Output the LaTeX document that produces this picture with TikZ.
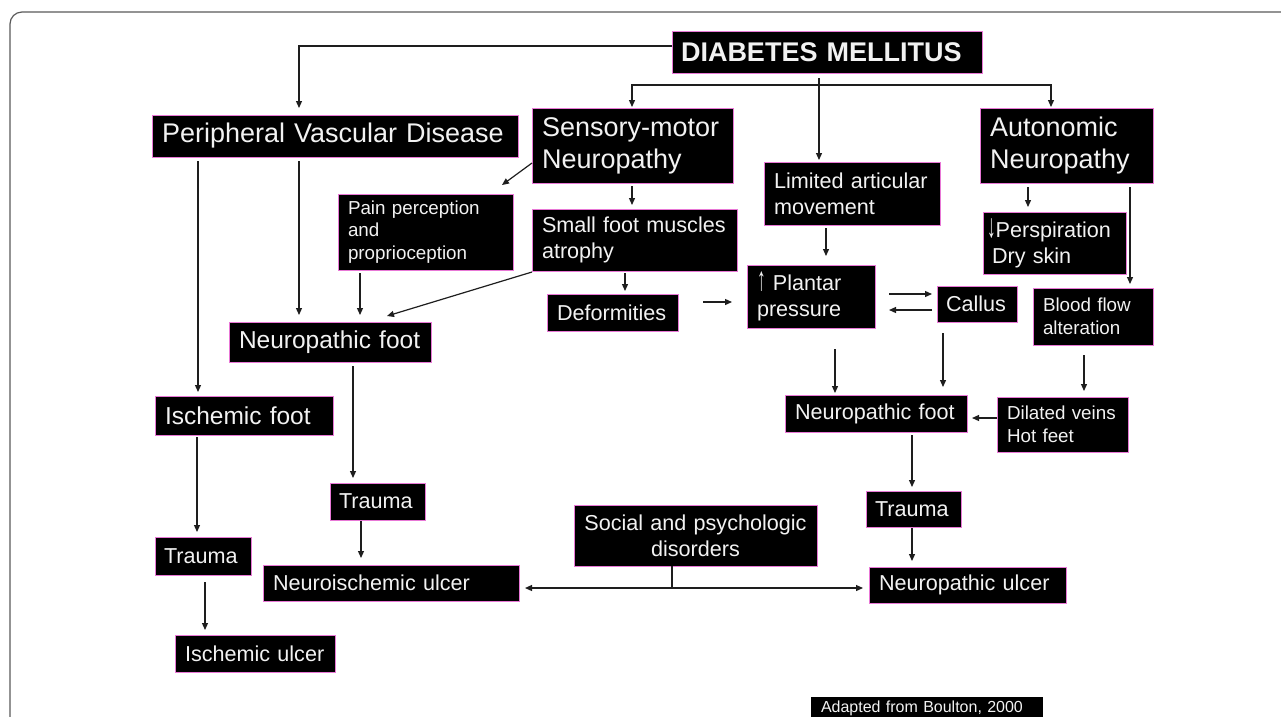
\documentclass[tikz,border=0pt]{standalone}
\usepackage{fontspec}
\setmainfont{Liberation Sans}
\usetikzlibrary{arrows.meta,calc}
\definecolor{edgepink}{RGB}{232,120,214}
\definecolor{txtwhite}{RGB}{242,242,242}
\definecolor{lncol}{RGB}{30,30,30}
\definecolor{framecol}{RGB}{90,90,90}
\newcommand{\fL}{\fontsize{27}{32}\selectfont}
\newcommand{\fLM}{\fontsize{24.5}{29}\selectfont}
\newcommand{\fM}{\fontsize{21.6}{26}\selectfont}
\newcommand{\fS}{\fontsize{18.8}{22.5}\selectfont}
\newcommand{\fC}{\fontsize{16}{19}\selectfont}
\newcommand{\tallarrow}[1]{\scalebox{0.8}[1.55]{#1}}
\begin{document}
\begin{tikzpicture}[x=1pt,y=-1pt,
  box/.style={draw=edgepink, line width=1pt, fill=black, text=txtwhite, anchor=north west,
              inner ysep=0pt, inner xsep=10pt, outer sep=0pt, align=left},
  arr/.style={draw=lncol, line width=1.2pt, -{Triangle[length=7pt,width=6pt]}},
  plain/.style={draw=lncol, line width=1.2pt},
  dbl/.style={draw=lncol, line width=1.2pt, {Triangle[length=7pt,width=6pt]}-{Triangle[length=7pt,width=6pt]}}]
\useasboundingbox (0,0) rectangle (1281,716);
\clip (0,0) rectangle (1281,716);
\fill[white] (0,0) rectangle (1281,716);
% frame
\draw[framecol, line width=1.2pt, rounded corners=12pt] (10,730) -- (10,12) -- (1290,12);

% nodes
\node[box, inner xsep=9pt, text width=292pt, minimum height=42pt, font=\fL\bfseries] (dm) at (672,31) {DIABETES MELLITUS};
\node[box, text width=346pt, minimum height=42pt, font=\fL] (pvd) at (152,115) {Peripheral Vascular Disease};
\node[box, text width=181pt, minimum height=75pt, font=\fL] (smn) at (532,108) {Sensory-motor\\Neuropathy};
\node[box, text width=153pt, minimum height=75pt, font=\fL] (aun) at (980,108) {Autonomic\\Neuropathy};
\node[box, text width=156pt, minimum height=63pt, font=\fM] (lam) at (764,162) {Limited articular\\movement};
\node[box, text width=155pt, minimum height=76pt, font=\fS] (ppp) at (338,194) {Pain perception\\and\\proprioception};
\node[box, text width=185pt, minimum height=62pt, font=\fM] (sfm) at (532,209) {Small foot muscles\\atrophy};
\node[box, text width=111pt, minimum height=37pt, font=\fM] (def) at (547,294) {Deformities};
\node[box, text width=108pt, minimum height=63pt, font=\fM] (plp) at (747,265) {\tallarrow{↑} Plantar\\pressure};
\node[box, inner xsep=9pt, text width=62pt, minimum height=36pt, font=\fM] (cal) at (937,286) {Callus};
\node[box, inner xsep=4pt, text width=135pt, minimum height=62pt, font=\fM] (per) at (983,212) {\tallarrow{↓}Perspiration\\\hspace*{5pt}Dry skin};
\node[box, text width=100pt, minimum height=57pt, font=\fS] (bfa) at (1033,288) {Blood flow\\alteration};
\node[box, text width=182pt, minimum height=40pt, font=\fLM] (nfl) at (229,322) {Neuropathic foot};
\node[box, text width=158pt, minimum height=39pt, font=\fLM] (isf) at (155,396) {Ischemic foot};
\node[box, text width=162pt, minimum height=37pt, font=\fM] (nfr) at (785,395) {Neuropathic foot};
\node[box, text width=111pt, minimum height=55pt, font=\fS] (dvh) at (997,397) {Dilated veins\\Hot feet};
\node[box, inner xsep=9pt, text width=77pt, minimum height=37pt, font=\fM] (trm) at (330,483) {Trauma};
\node[box, inner xsep=9pt, text width=78pt, minimum height=38pt, font=\fM] (trl) at (155,537) {Trauma};
\node[box, inner xsep=9pt, text width=77pt, minimum height=36pt, font=\fM] (tri) at (866,491) {Trauma};
\node[box, text width=236pt, minimum height=36pt, font=\fM] (niu) at (263,565) {Neuroischemic ulcer};
\node[box, text width=140pt, minimum height=37pt, font=\fM] (isu) at (175,635) {Ischemic ulcer};
\node[box, text width=223pt, minimum height=61pt, font=\fM, align=center] (spd) at (574,505) {Social and psychologic\\disorders};
\node[box, text width=177pt, minimum height=36pt, font=\fM] (npu) at (869,567) {Neuropathic ulcer};
\node[box, draw=black, text width=211pt, minimum height=22pt, font=\fC] (cap) at (811,697) {Adapted from  Boulton, 2000};

% connectors
\draw[arr] ($(dm.west)+(0,-6)$) -| ($(pvd.north west)+(147,-7)$);
\coordinate (j) at ($(dm.south west)+(147,12)$);
\draw[arr] ($(dm.south west)+(147,5)$) -- ($(lam.north west)+(55,-2)$);
\draw[arr] (j) -| ($(smn.north west)+(100,-1)$);
\draw[arr] (j) -| ($(aun.north west)+(71,-1)$);
\draw[arr] ($(smn.south west)+(0,-20)$) -- ($(ppp.north east)+(-11,-9)$);
\draw[arr] ($(smn.south west)+(100,3)$) -- ($(sfm.north west)+(100,-4)$);
\draw[arr] ($(ppp.south west)+(22,3)$) -- ($(nfl.north west)+(131,-7)$);
\draw[arr] ($(sfm.south west)+(0,1)$) -- ($(nfl.north east)+(-44,-6)$);
\draw[arr] ($(sfm.south west)+(93,2)$) -- ($(def.north west)+(78,-3)$);
\draw[arr] ($(def.north east)+(25,8)$) -- ($(plp.north west)+(-15,37)$);
\draw[arr] ($(pvd.south west)+(46,4)$) -- ($(isf.north west)+(43,-4)$);
\draw[arr] ($(pvd.south west)+(147,4)$) -- ($(nfl.north west)+(70,-7)$);
\draw[arr] ($(nfl.south west)+(124,4)$) -- ($(trm.north west)+(23,-5)$);
\draw[arr] ($(isf.south west)+(42,2)$) -- ($(trl.north west)+(42,-5)$);
\draw[arr] ($(trm.south west)+(31,1)$) -- ($(niu.north west)+(98,-7)$);
\draw[arr] ($(trl.south west)+(50,7)$) -- ($(isu.north west)+(30,-5)$);
\coordinate (js) at ($(spd.south west)+(98,22)$);
\draw[plain] ($(spd.south west)+(98,0)$) -- (js);
\draw[dbl] ($(niu.east)+(6,5)$) -- ($(npu.west)+(-6,3)$);
\draw[arr] ($(lam.south west)+(62,3)$) -- ($(plp.north west)+(79,-9)$);
\draw[arr] ($(plp.north east)+(14,29)$) -- ($(cal.north west)+(-5,8)$);
\draw[arr] ($(cal.south west)+(-5,-12)$) -- ($(plp.north east)+(14,45)$);
\draw[arr] ($(plp.south west)+(88,21)$) -- ($(nfr.north west)+(50,-2)$);
\draw[arr] ($(cal.south west)+(6,11)$) -- ($(nfr.north east)+(-24,-8)$);
\draw[arr] ($(dvh.north west)+(0,21)$) -- ($(nfr.north east)+(5,23)$);
\draw[arr] ($(aun.south west)+(48,4)$) -- ($(per.north west)+(45,-5)$);
\draw[arr] ($(aun.south west)+(150,4)$) -- ($(bfa.north west)+(97,-4)$);
\draw[arr] ($(bfa.south west)+(51,10)$) -- ($(dvh.north west)+(87,-6)$);
\draw[arr] ($(nfr.south west)+(127,3)$) -- ($(tri.north west)+(46,-4)$);
\draw[arr] ($(tri.south west)+(46,1)$) -- ($(npu.north west)+(43,-6)$);
\end{tikzpicture}
\end{document}
